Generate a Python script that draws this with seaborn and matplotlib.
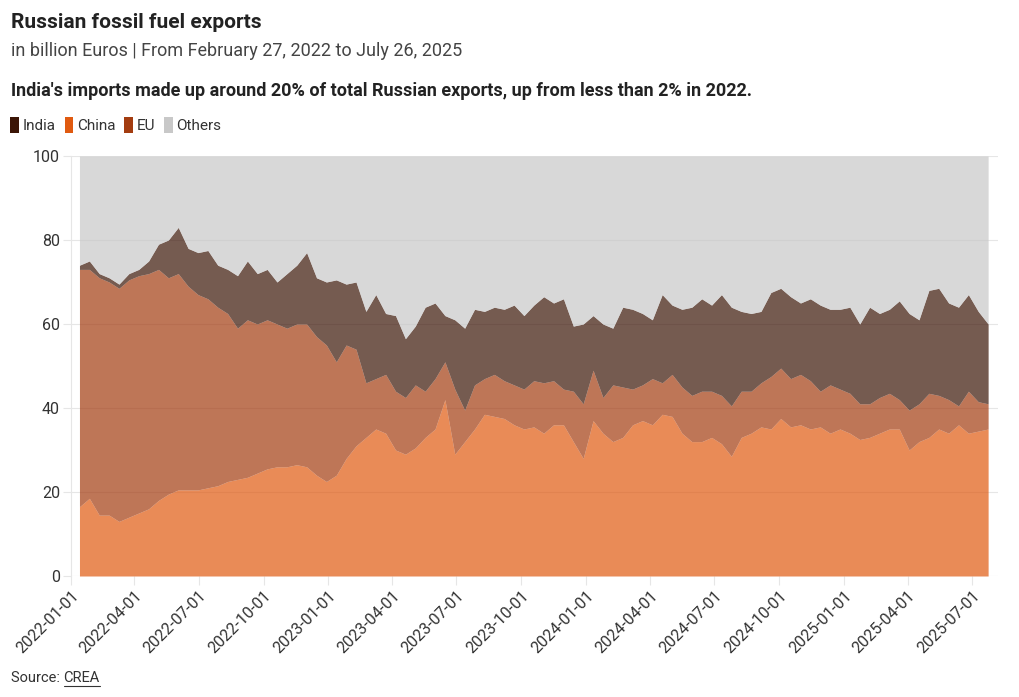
import pandas as pd
import matplotlib
matplotlib.use("Agg")
import matplotlib.pyplot as plt
import matplotlib.dates as mdates
from matplotlib.patches import Patch
from matplotlib.lines import Line2D
import seaborn as sns

# share of Russian fossil fuel export revenue, every 14 days
dates = pd.date_range("2022-01-13", periods=93, freq="14D")

china = [16.5, 18.5, 14.5, 14.5, 13, 14, 15, 16, 18, 19.5, 20.5, 20.5, 20.5, 21, 21.5, 22.5,
         23, 23.5, 24.5, 25.5, 26, 26, 26.5, 26, 24, 22.5, 24, 28, 31, 33, 35, 34, 30,
         29, 30.5, 33, 35, 42, 29, 32, 35, 38.5, 38, 37.5, 36, 35, 35.5, 34, 36, 36, 32,
         28, 37, 34, 32, 33, 36, 37, 36, 38.5, 38,
         34, 32, 32, 33, 31.5, 28.5, 33, 34, 35.5, 35, 37.5, 35.5, 36, 35, 35.5, 34, 35,
         34, 32.5, 33, 34, 35, 35, 30, 32, 33, 35, 34, 36, 34, 34.5, 35]
eu = [56.5, 54.5, 56.5, 55.5, 55.5, 56.5, 56.5, 56, 55, 51.5, 51.5, 48.5, 46.5, 45, 42.5, 40,
      36, 37.5, 35.5, 35.5, 34, 33, 33.5, 34, 33, 32.5, 27, 27, 23, 13, 12, 14, 14,
      13.5, 15, 11, 12, 9, 15.5, 7.5, 10.5, 8.5, 10, 9, 9.5, 9.5, 11, 12, 10.5, 8.5, 12,
      13, 12, 8.5, 13.5, 12, 8.5, 8.5, 11, 7.5, 10,
      11, 11, 12, 11, 11.5, 12, 11, 10, 10.5, 12.5, 12, 11.5, 12, 11.5, 8.5, 11.5, 9.5,
      9.5, 8.5, 8, 8.5, 8.5, 7, 9.5, 9, 10.5, 8, 8, 4.5, 10, 7, 6]
india = [1, 2, 1, 1, 1, 1.5, 1.5, 3, 6, 9, 11, 9, 10, 11.5, 10, 10.5,
         12.5, 14, 12, 12, 10, 13, 14, 17, 14, 15, 19.5, 14.5, 16, 17, 20, 14.5, 18,
         14, 14, 20, 18, 11, 16.5, 19.5, 18, 16, 16, 17, 19, 17.5, 18, 20.5, 18.5, 21.5, 15.5,
         19, 13, 17.5, 13.5, 19, 19, 17, 14, 21, 16.5,
         18.5, 21, 22, 20.5, 24, 23.5, 19, 18.5, 17, 20, 19, 19.5, 17, 19.5, 20.5, 18, 19,
         20.5, 19, 23, 20, 20, 23.5, 23, 20, 24.5, 25.5, 23, 23.5, 23, 21.5, 19]
others = [26, 25, 28, 29, 30.5, 28, 27, 25, 21, 20, 17, 22, 23, 22.5, 26, 27,
          28.5, 25, 28, 27, 30, 28, 26, 23, 29, 30, 29.5, 30.5, 30, 37, 33, 37.5, 38,
          43.5, 40.5, 36, 35, 38, 39, 41, 36.5, 37, 36, 36.5, 35.5, 38, 35.5, 33.5, 35, 34, 40.5,
          40, 38, 40, 41, 36, 36.5, 37.5, 39, 33, 35.5,
          36.5, 36, 34, 35.5, 33, 36, 37, 37.5, 37, 32.5, 31.5, 33.5, 35, 34, 35.5, 36.5, 36.5,
          36, 40, 36, 37.5, 36.5, 34.5, 37.5, 39, 32, 31.5, 35, 36, 33, 37, 40]

series_names = ["India", "China", "EU", "Others"]
colors = {"India": "#3b1506", "China": "#e05a10", "EU": "#a33c10", "Others": "#c8c8c8"}
tick_dates = pd.date_range("2022-01-01", "2025-07-01", freq="QS")

sns.set_theme(style="white")
plt.rcParams["font.family"] = ["Roboto", "DejaVu Sans"]
text_col = "#333333"
grid_col = "#e6e6e6"

fig = plt.figure(figsize=(10.2, 6.97), dpi=100)
ax = fig.add_axes([71 / 1020, 1 - 576 / 697, (998 - 71) / 1020, (576 - 156) / 697])

# stacked from the bottom: China, EU, India, Others
ax.stackplot(dates, china, eu, india, others,
             colors=[colors["China"], colors["EU"], colors["India"], colors["Others"]],
             alpha=0.7, linewidth=0)

ax.set_xlim(pd.Timestamp("2022-01-01"), pd.Timestamp("2025-08-07"))
ax.set_ylim(0, 100)
ax.set_yticks([0, 20, 40, 60, 80, 100])
ax.set_xticks(tick_dates)
ax.xaxis.set_major_formatter(mdates.DateFormatter("%Y-%m-%d"))
ax.grid(True, axis="y", color=grid_col, linewidth=0.8)
ax.grid(False, axis="x")
ax.set_axisbelow(True)
sns.despine(ax=ax, bottom=True)
ax.spines["left"].set_color(grid_col)
ax.spines["left"].set_linewidth(0.8)
ax.tick_params(axis="x", bottom=True, length=6.5, width=0.8, color=grid_col,
               labelsize=11.5, labelcolor=text_col, pad=2)
ax.tick_params(axis="y", left=True, length=6, width=0.8, color=grid_col,
               labelsize=11.5, labelcolor=text_col, pad=2)
plt.setp(ax.get_xticklabels(), rotation=45, ha="right", rotation_mode="anchor")
ax.set_xlabel("")
ax.set_ylabel("")

# header texts
fig.text(11 / 1020, 1 - 23 / 697, "Russian fossil fuel exports", fontsize=15,
         fontweight="bold", color="#222222", va="center")
fig.text(11 / 1020, 1 - 51 / 697, "in billion Euros | From February 27, 2022 to July 26, 2025",
         fontsize=13, color="#444444", va="center")
fig.text(11 / 1020, 1 - 91 / 697,
         "India's imports made up around 20% of total Russian exports, up from less than 2% in 2022.",
         fontsize=13, fontweight="bold", color="#222222", va="center")

handles = [Patch(facecolor=colors[n], edgecolor="none", label=n) for n in series_names]
fig.legend(handles=handles, loc="center left", bbox_to_anchor=(4 / 1020, 1 - 125 / 697),
           ncol=4, frameon=False, handlelength=0.55, handleheight=1.25, handletextpad=0.25,
           columnspacing=0.6, fontsize=11, labelcolor=text_col, borderaxespad=0)

src = fig.text(11 / 1020, 1 - 678 / 697, "Source: ", fontsize=10.5, color=text_col, va="center")
fig.canvas.draw()
bb = src.get_window_extent()
crea = fig.text(bb.x1 / 1020, 1 - 678 / 697, "CREA", fontsize=10.5, color=text_col, va="center")
fig.canvas.draw()
cb = crea.get_window_extent()
fig.add_artist(Line2D([cb.x0 / 1020, cb.x1 / 1020], [(cb.y0 - 1) / 697, (cb.y0 - 1) / 697],
                      color=text_col, linewidth=0.8))

fig.savefig("out.png", dpi=100)
